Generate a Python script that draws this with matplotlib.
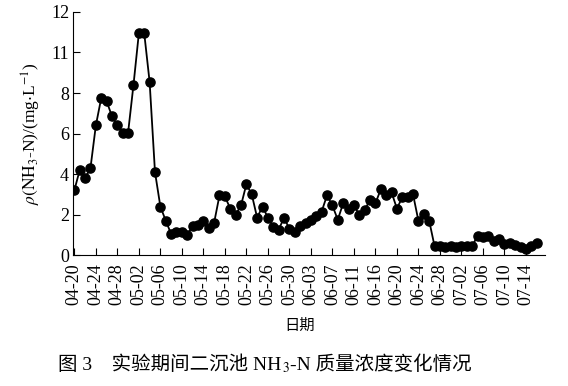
import matplotlib.pyplot as plt
from matplotlib.offsetbox import TextArea, HPacker, AnchoredOffsetbox

plt.rcParams['font.family'] = ['Liberation Serif', 'Noto Sans CJK SC']
plt.rcParams['mathtext.fontset'] = 'stix'

# NH3-N concentration, one value per sampling day
nh3n = [3.2, 4.2, 3.8, 4.3, 6.4, 7.75, 7.6, 6.85, 6.4, 6.05,
        6.05, 8.4, 10.95, 10.95, 8.55, 4.1, 2.4, 1.7, 1.05, 1.15,
        1.15, 1.0, 1.45, 1.5, 1.7, 1.35, 1.6, 2.95, 2.9, 2.3,
        2.0, 2.45, 3.5, 3.0, 1.85, 2.4, 1.85, 1.4, 1.25, 1.85,
        1.3, 1.15, 1.45, 1.6, 1.75, 1.95, 2.15, 2.95, 2.45, 1.75,
        2.55, 2.3, 2.45, 2.0, 2.25, 2.7, 2.55, 3.25, 2.95, 3.1,
        2.3, 2.85, 2.85, 3.0, 1.7, 2.05, 1.7, 0.45, 0.45, 0.4,
        0.45, 0.4, 0.45, 0.45, 0.45, 0.95, 0.9, 0.95, 0.7, 0.8,
        0.55, 0.6, 0.5, 0.4, 0.3, 0.45, 0.6]

date_labels = ['04-20', '04-24', '04-28', '05-02', '05-06', '05-10', '05-14',
               '05-18', '05-22', '05-26', '05-30', '06-03', '06-07', '06-11',
               '06-16', '06-20', '06-24', '06-28', '07-02', '07-06', '07-10',
               '07-14']

y_ticks = [0, 2, 4, 6, 8, 10, 12]
y_labels = ['0', '2', '4', '6', '8', '11', '12']

fig = plt.figure(figsize=(5.68, 3.86), dpi=100)
ax = fig.add_axes([0.129, 0.339, 0.831, 0.630])

x = list(range(len(nh3n)))
ax.plot(x, nh3n, color='black', linewidth=1.3, marker='o', markersize=6.6)

ax.set_xlim(-0.2, 87.6)
ax.set_ylim(0, 12)
ax.set_xticks(x[::4][:len(date_labels)])
ax.set_xticklabels(date_labels, rotation=90, fontsize=13)
ax.set_yticks(y_ticks)
ax.set_yticklabels(y_labels, fontsize=13)
ax.tick_params(direction='in', length=5, width=0.8, pad=3)
ax.tick_params(axis='x', pad=6)

for side in ['top', 'right']:
    ax.spines[side].set_visible(False)

ax.set_ylabel(r'$\rho(\mathrm{NH_3}$-N)/(mg$\cdot$L$^{-1}$)', fontsize=12.5, labelpad=6)

fig.text(0.528, 0.155, '日期', ha='center', va='center', fontsize=11)

# caption: CJK text plus a subscript, packed side by side
cap_props = dict(fontsize=14, family=['Liberation Serif', 'Noto Sans CJK SC'])
parts = [TextArea('图 3　实验期间二沉池 NH', textprops=cap_props),
         TextArea('$_3$', textprops=dict(fontsize=14)),
         TextArea('-N 质量浓度变化情况', textprops=cap_props)]
caption = HPacker(children=parts, align='baseline', pad=0, sep=0)
box = AnchoredOffsetbox(loc='center', child=caption, frameon=False,
                        bbox_to_anchor=(0.466, 0.054),
                        bbox_transform=fig.transFigure, borderpad=0, pad=0)
fig.add_artist(box)

plt.savefig('out.png', dpi=100)
plt.close()
